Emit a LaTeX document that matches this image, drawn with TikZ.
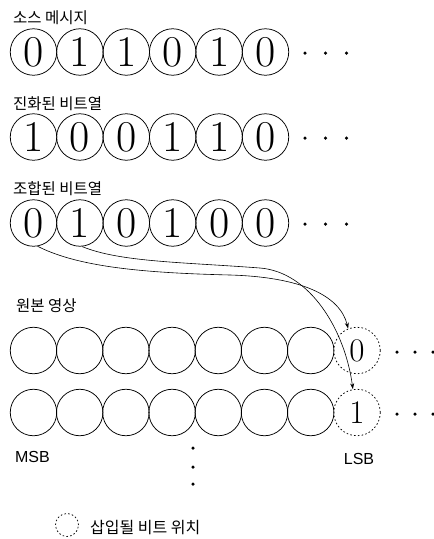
\documentclass[tikz,border=0pt]{standalone}
\usepackage{fontspec}
\newfontfamily\kr{Noto Sans CJK KR}
\newfontfamily\lab{Liberation Sans}
\usetikzlibrary{arrows.meta}
\begin{document}
\begin{tikzpicture}[x=1pt,y=-1pt,
  bit/.style={circle, draw, line width=0.75pt, minimum size=46.5pt, inner sep=0pt, font=\fontsize{44}{44}\selectfont},
  hole/.style={circle, draw, dash pattern=on 1.6pt off 2.2pt, line width=0.75pt, minimum size=46.5pt, inner sep=0pt, font=\fontsize{33}{33}\selectfont},
  lbl/.style={anchor=west, inner sep=0pt, font=\kr\fontsize{15.5}{16}\selectfont},
  sb/.style={inner sep=0pt, font=\lab\fontsize{16}{16}\selectfont},
  dot/.style={circle, fill, inner sep=0pt, minimum size=3.5pt},
  arr/.style={line width=0.6pt, -{Stealth[length=6pt,width=4pt]}}]
\useasboundingbox (0,0) rectangle (434,539);
% labels
\node[lbl] (la) at (13,18) {소스 메시지};
\node[lbl] (lb) at (13,104) {진화된 비트열};
\node[lbl] (lc) at (13,189) {조합된 비트열};
\node[lbl] (ld) at (16,305.5) {원본 영상};
% rows of bits
\foreach \d [count=\i from 0] in {0,1,1,0,1,0}
  \node[bit] (a\i) at ({33.5+46.4*\i},52) {\d};
\foreach \d [count=\i from 0] in {1,0,0,1,1,0}
  \node[bit] (b\i) at ({33.5+46.4*\i},137) {\d};
\foreach \d [count=\i from 0] in {0,1,0,1,0,0}
  \node[bit] (c\i) at ({33.5+46.4*\i},223) {\d};
\foreach \r/\y in {a/53,b/138,c/224}{
  \node[dot] (\r d1) at (305,\y) {};
  \node[dot] (\r d2) at (325.5,\y) {};
  \node[dot] (\r d3) at (346.5,\y) {};
}
% image rows
\foreach \i in {0,...,6}{
  \node[bit] (d\i) at ({33.5+46.2*\i},350.5) {};
  \node[bit] (e\i) at ({33.5+46.2*\i},412.5) {};
}
\node[hole] (d7) at (357,350.5) {0};
\node[hole] (e7) at (357,412.5) {1};
\foreach \r/\y in {d/352,e/414}{
  \node[dot] (\r d1) at (397,\y) {};
  \node[dot] (\r d2) at (415,\y) {};
  \node[dot] (\r d3) at (433,\y) {};
}
% connectors
\draw[arr] (c0.-80) .. controls (80,268) and (150,273) .. (230,275)
  .. controls (300,277) and (340,295) .. (d7.112);
\draw[arr] (c1.-85) .. controls (120,262) and (180,262) .. (260,268)
  .. controls (310,272) and (345,330) .. (e7.100);
% MSB / LSB
\node[sb] (msb) at (32.5,457) {MSB};
\node[sb] (lsb) at (359,459) {LSB};
% vertical dots
\node[dot] (v1) at (193,448) {};
\node[dot] (v2) at (193,467) {};
\node[dot] (v3) at (193,484) {};
% legend
\node[circle, draw, dash pattern=on 1.6pt off 2.2pt, line width=0.75pt, minimum size=23pt, inner sep=0pt] (lg) at (67,525) {};
\node[lbl, font=\kr\fontsize{16}{16}\selectfont] (lgt) at (90,528) {삽입될 비트 위치};
\end{tikzpicture}
\end{document}
